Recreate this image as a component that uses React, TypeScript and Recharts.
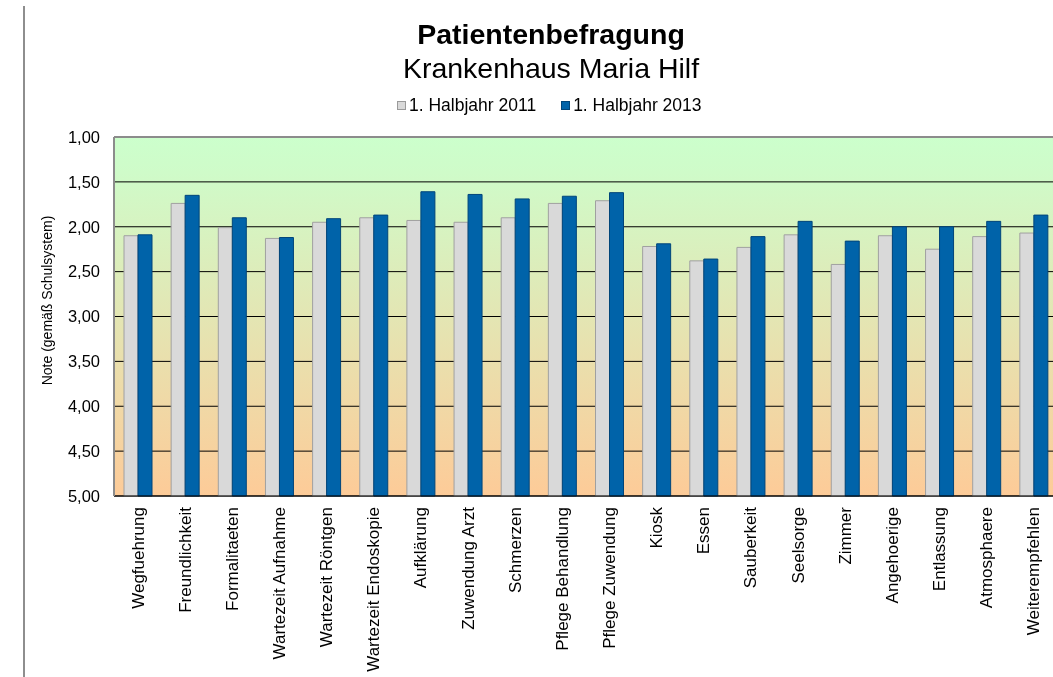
import React from 'react';
import { BarChart, Bar, XAxis, YAxis, CartesianGrid, Legend, ReferenceLine, Label } from 'recharts';

const categories = [
  'Wegfuehrung', 'Freundlichkeit', 'Formalitaeten', 'Wartezeit Aufnahme', 'Wartezeit Röntgen',
  'Wartezeit Endoskopie', 'Aufklärung', 'Zuwendung Arzt', 'Schmerzen', 'Pflege Behandlung',
  'Pflege Zuwendung', 'Kiosk', 'Essen', 'Sauberkeit', 'Seelsorge', 'Zimmer', 'Angehoerige',
  'Entlassung', 'Atmosphaere', 'Weiterempfehlen',
];
const values2011 = [2.10, 1.74, 2.01, 2.13, 1.95, 1.90, 1.93, 1.95, 1.90, 1.74, 1.71, 2.22, 2.38, 2.23, 2.09, 2.42, 2.10, 2.25, 2.11, 2.07];
const values2013 = [2.09, 1.65, 1.90, 2.12, 1.91, 1.87, 1.61, 1.64, 1.69, 1.66, 1.62, 2.19, 2.36, 2.11, 1.94, 2.16, 2.00, 2.00, 1.94, 1.87];
const seriesNames = ['1. Halbjahr 2011', '1. Halbjahr 2013'];
const yTicks = [1, 1.5, 2, 2.5, 3, 3.5, 4, 4.5, 5];
const yAxisTitle = 'Note (gemäß Schulsystem)';
const worstGrade = 5;

const data = categories.map((name, i) => ({ name, a: values2011[i], b: values2013[i] }));

const FONT = '"Liberation Sans", Arial, sans-serif';

const XTick = (props: any) => {
  const { x, y, payload } = props;
  return (
    <text
      x={x}
      y={y}
      transform={`rotate(-90, ${x}, ${y})`}
      textAnchor="end"
      dy="0.35em"
      fontSize={17}
      fontFamily={FONT}
      fill="#000"
    >
      {payload.value}
    </text>
  );
};

const YTitle = (props: any) => {
  const vb = props.viewBox || { x: 0, y: 0, width: 0, height: 0 };
  const x = vb.x + 39;
  const y = vb.y + vb.height / 2 - 16;
  return (
    <text
      x={x}
      y={y}
      transform={`rotate(-90, ${x}, ${y})`}
      textAnchor="middle"
      dy="0.35em"
      fontSize={14}
      fontFamily={FONT}
      fill="#000"
    >
      {yAxisTitle}
    </text>
  );
};

const LegendContent = (props: any) => {
  const { payload } = props;
  return (
    <div style={{ display: 'flex', gap: 25, fontFamily: FONT, fontSize: 17.5, color: '#000', lineHeight: '20px' }}>
      {(payload || []).map((p: any, i: number) => (
        <div key={i} style={{ display: 'flex', alignItems: 'center' }}>
          <span
            style={{
              display: 'inline-block',
              width: 7,
              height: 7,
              background: p.color,
              border: `1px solid ${i === 0 ? '#9a9a9a' : '#00457a'}`,
              marginRight: 3,
            }}
          />
          <span>{p.value}</span>
        </div>
      ))}
    </div>
  );
};

export default function App() {
  return (
    <div style={{ position: 'fixed', left: 8, top: 8, width: 1045, height: 669, overflow: 'hidden', fontFamily: FONT }}>
      <div style={{ position: 'fixed', left: 23, top: 6, width: 2, height: 671, background: '#8e8e8e' }} />
      <div
        style={{
          position: 'absolute', left: 343, width: 400, top: 10, textAlign: 'center',
          fontSize: 28.5, fontWeight: 'bold', lineHeight: '32px', color: '#000',
        }}
      >
        Patientenbefragung
      </div>
      <div
        style={{
          position: 'absolute', left: 343, width: 400, top: 44, textAlign: 'center',
          fontSize: 28.5, lineHeight: '32px', color: '#000',
        }}
      >
        Krankenhaus Maria Hilf
      </div>
      <BarChart
        width={1049}
        height={669}
        data={data}
        margin={{ top: 129, right: 0, bottom: 31, left: 0 }}
        barCategoryGap={10}
        barGap={0}
        style={{ fontFamily: FONT }}
      >
        <defs>
          <linearGradient id="bgGrad" x1="0" y1="0" x2="0" y2="1">
            <stop offset="0%" stopColor="#ccffcc" />
            <stop offset="10%" stopColor="#cffbc9" />
            <stop offset="100%" stopColor="#fdcb98" />
          </linearGradient>
        </defs>
        <CartesianGrid vertical={false} stroke="#000" strokeWidth={1} fill="url(#bgGrad)" fillOpacity={1} />
        <XAxis
          dataKey="name"
          interval={0}
          tickLine={false}
          tickSize={0}
          tickMargin={11}
          axisLine={{ stroke: '#000', strokeWidth: 1 }}
          height={150}
          tick={<XTick />}
        />
        <YAxis
          type="number"
          reversed
          domain={[1, 5]}
          ticks={yTicks}
          interval={0}
          width={106}
          tickLine={false}
          tickMargin={8}
          axisLine={{ stroke: '#8c8c8c', strokeWidth: 2 }}
          tick={{ fontSize: 16.5, fill: '#000', fontFamily: FONT }}
          tickFormatter={(v: number) => v.toFixed(2).replace('.', ',')}
        >
          <Label content={<YTitle />} />
        </YAxis>
        <ReferenceLine y={1} stroke="#8c8c8c" strokeWidth={2} />
        <Legend
          verticalAlign="middle"
          align="center"
          wrapperStyle={{ top: 87, left: 389, width: 360 }}
          content={<LegendContent />}
        />
        <Bar
          name={seriesNames[0]}
          dataKey={(d: any) => [worstGrade, d.a]}
          fill="#d9d9d9"
          stroke="#a0a0a0"
          strokeWidth={1}
          isAnimationActive={false}
        />
        <Bar
          name={seriesNames[1]}
          dataKey={(d: any) => [worstGrade, d.b]}
          fill="#0063a9"
          stroke="#00457a"
          strokeWidth={1}
          isAnimationActive={false}
        />
      </BarChart>
    </div>
  );
}
